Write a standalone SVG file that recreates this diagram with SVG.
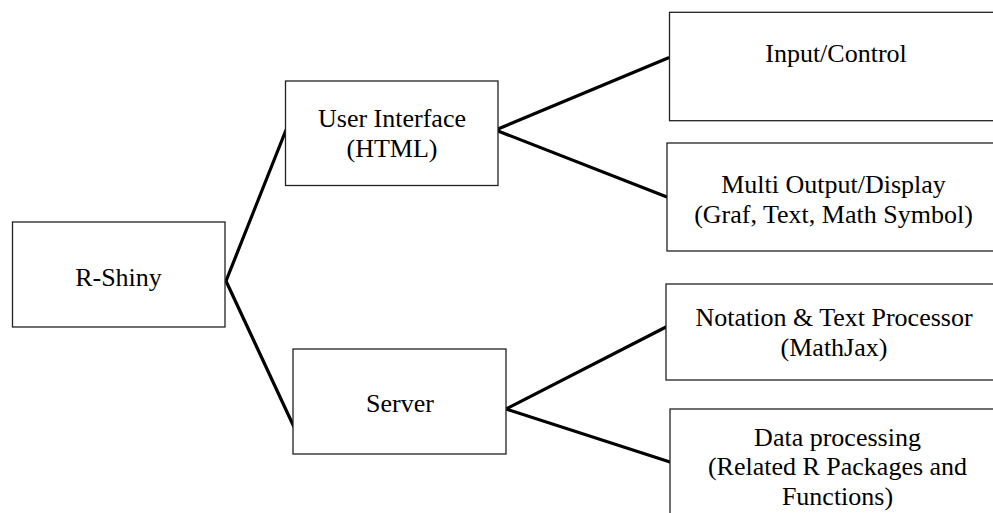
<svg xmlns="http://www.w3.org/2000/svg" width="993" height="513" viewBox="0 0 993 513">
<style>
.box{fill:#fff;stroke:#222;stroke-width:1.3}
.lbl{font-family:'Liberation Serif',Tinos,'DejaVu Serif',serif;font-size:26px;fill:#000;text-anchor:middle}
.conn{stroke:#000;stroke-width:3.2;fill:none;stroke-linecap:round}
</style>
<rect width="993" height="513" fill="#fff"/>
<g id="connectors">
<line class="conn" x1="226" y1="281" x2="286" y2="130"/>
<line class="conn" x1="226" y1="281" x2="294" y2="427"/>
<line class="conn" x1="498" y1="129" x2="668" y2="58"/>
<line class="conn" x1="498" y1="131" x2="667" y2="197"/>
<line class="conn" x1="506" y1="409" x2="666" y2="327"/>
<line class="conn" x1="506" y1="409" x2="670" y2="462"/>
</g>
<g id="rshiny">
<rect class="box" x="12.5" y="222" width="212.5" height="105"/>
<text class="lbl" x="118.5" y="286">R-Shiny</text>
</g>
<g id="ui">
<rect class="box" x="285.5" y="81" width="212.5" height="104.5"/>
<text class="lbl" x="392" y="127">User Interface</text>
<text class="lbl" x="392" y="157">(HTML)</text>
</g>
<g id="server">
<rect class="box" x="293" y="349" width="213" height="105"/>
<text class="lbl" x="400" y="412">Server</text>
</g>
<g id="input">
<rect class="box" x="669.5" y="12.3" width="340" height="108.4"/>
<text class="lbl" x="836" y="62">Input/Control</text>
</g>
<g id="output">
<rect class="box" x="667" y="143" width="340" height="108"/>
<text class="lbl" x="833.5" y="193">Multi Output/Display</text>
<text class="lbl" x="833.5" y="223">(Graf, Text, Math Symbol)</text>
</g>
<g id="notation">
<rect class="box" x="666" y="284" width="340" height="96"/>
<text class="lbl" x="834" y="326">Notation &amp; Text Processor</text>
<text class="lbl" x="834" y="356">(MathJax)</text>
</g>
<g id="data">
<rect class="box" x="670" y="409" width="340" height="120"/>
<text class="lbl" x="837.5" y="446">Data processing</text>
<text class="lbl" x="837.5" y="475">(Related R Packages and</text>
<text class="lbl" x="837.5" y="505">Functions)</text>
</g>
</svg>
